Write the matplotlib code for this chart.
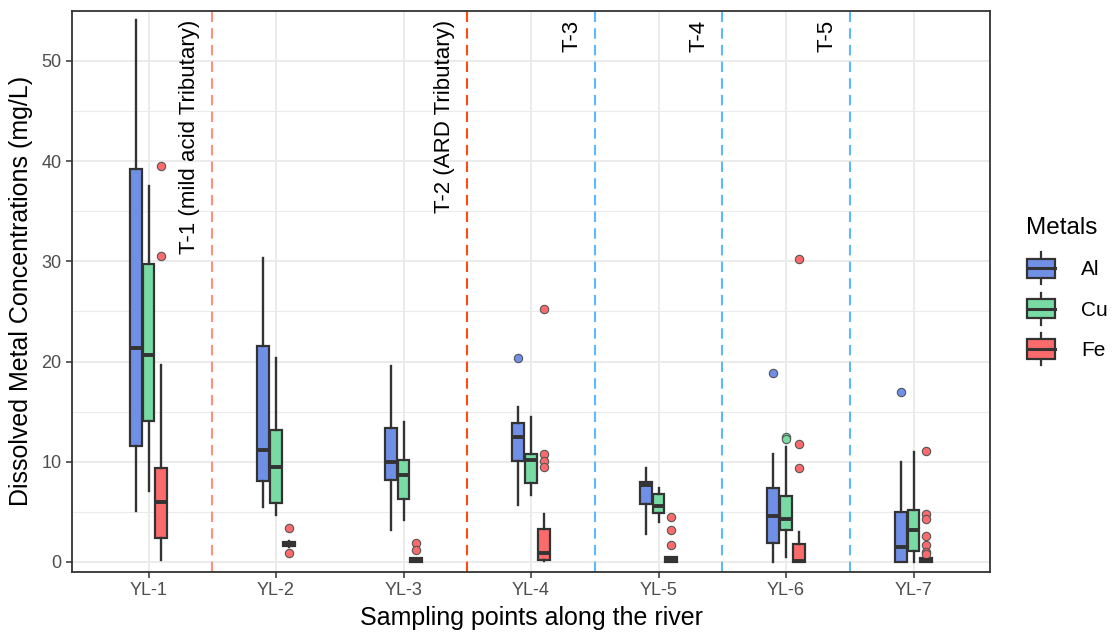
import matplotlib
matplotlib.use("Agg")
import matplotlib.pyplot as plt
from matplotlib.patches import Rectangle, Patch
from matplotlib.lines import Line2D
from matplotlib.legend_handler import HandlerBase

plt.rcParams['font.family'] = ['Liberation Sans', 'DejaVu Sans']

sites = ["YL-1", "YL-2", "YL-3", "YL-4", "YL-5", "YL-6", "YL-7"]
metals = ["Al", "Cu", "Fe"]
colors = {"Al": "#7090E8", "Cu": "#78DBA4", "Fe": "#FB6B6B"}

# box stats: whisker low, q1, median, q3, whisker high
al_lo = [5.1, 5.5, 3.2, 5.7, 2.8, 0.0, 0.0]
al_q1 = [11.6, 8.1, 8.2, 10.1, 5.8, 1.9, 0.0]
al_med = [21.3, 11.2, 10.0, 12.5, 7.7, 4.6, 1.5]
al_q3 = [39.2, 21.5, 13.4, 13.9, 8.0, 7.4, 5.0]
al_hi = [54.1, 30.3, 19.6, 15.5, 9.4, 10.8, 10.0]
al_out = [[], [], [], [20.4], [], [18.9], [17.0]]

cu_lo = [7.1, 4.7, 4.2, 6.7, 4.0, 0.5, 0.0]
cu_q1 = [14.1, 5.9, 6.3, 7.9, 4.9, 3.2, 1.1]
cu_med = [20.6, 9.5, 8.7, 10.2, 5.6, 4.3, 3.2]
cu_q3 = [29.7, 13.2, 10.2, 10.8, 6.8, 6.6, 5.2]
cu_hi = [37.5, 20.4, 14.0, 14.5, 7.4, 11.5, 11.0]
cu_out = [[], [], [], [], [], [12.5, 12.3], []]

fe_lo = [0.2, 1.5, 0.0, 0.1, 0.0, 0.0, 0.0]
fe_q1 = [2.4, 1.6, 0.0, 0.2, 0.0, 0.0, 0.0]
fe_med = [6.0, 1.8, 0.2, 0.9, 0.3, 0.1, 0.2]
fe_q3 = [9.4, 2.0, 0.4, 3.3, 0.5, 1.8, 0.4]
fe_hi = [19.7, 2.1, 0.4, 4.8, 0.5, 3.0, 0.4]
fe_out = [[39.5, 30.5], [3.4, 0.9], [1.9, 1.2], [25.2, 10.8, 10.1, 9.5],
          [4.5, 3.2, 1.7], [30.2, 11.8, 9.4], [11.1, 4.8, 4.3, 2.6, 1.7, 1.0, 0.8]]

series = {
    "Al": (al_lo, al_q1, al_med, al_q3, al_hi, al_out),
    "Cu": (cu_lo, cu_q1, cu_med, cu_q3, cu_hi, cu_out),
    "Fe": (fe_lo, fe_q1, fe_med, fe_q3, fe_hi, fe_out),
}

# tributary markers between sites
trib_x = [1.5, 3.5, 4.5, 5.5, 6.5]
trib_labels = ["T-1 (mild acid Tributary)", "T-2 (ARD Tributary)", "T-3", "T-4", "T-5"]
trib_colors = ["#FF9080", "#FF4A10", "#5CB8FF", "#5CB8FF", "#5CB8FF"]

fig = plt.figure(figsize=(11.12, 6.37), dpi=100)
ax = fig.add_axes([72 / 1112, 65 / 637, 918 / 1112, 561.3 / 637])

edge = "#333333"
offsets = {"Al": -0.1, "Cu": 0.0, "Fe": 0.1}
for m in metals:
    lo, q1, med, q3, hi, out = series[m]
    stats = []
    for i in range(len(sites)):
        stats.append(dict(whislo=lo[i], q1=q1[i], med=med[i], q3=q3[i],
                          whishi=hi[i], fliers=out[i]))
    pos = [i + 1 + offsets[m] for i in range(len(sites))]
    ax.bxp(stats, positions=pos, widths=0.092, patch_artist=True, showcaps=False,
           boxprops=dict(facecolor=colors[m], edgecolor=edge, linewidth=1.6),
           whiskerprops=dict(color=edge, linewidth=1.7),
           medianprops=dict(color=edge, linewidth=2.8, solid_capstyle='butt'),
           flierprops=dict(marker='o', markerfacecolor=colors[m], markeredgecolor='#555555',
                           markersize=6, markeredgewidth=0.8),
           zorder=3)

for x, lab, c in zip(trib_x, trib_labels, trib_colors):
    ax.axvline(x, color=c, linewidth=1.5, dashes=(5, 3), zorder=2)
    ax.text(x - 0.18, 54.1, lab, rotation=90, ha='center', va='top', fontsize=16,
            color='black', zorder=4)

ax.set_xlim(0.4, 7.6)
ax.set_ylim(-1.0, 55.0)
ax.set_xticks(range(1, len(sites) + 1))
ax.set_xticklabels(sites)
ax.set_yticks([0, 10, 20, 30, 40, 50])
ax.set_yticks([5, 15, 25, 35, 45], minor=True)
ax.tick_params(axis='both', which='major', labelsize=13, labelcolor='#4D4D4D',
               color='#333333', length=4, width=1.1)
ax.tick_params(axis='y', which='minor', length=0)
ax.grid(True, which='major', color='#EBEBEB', linewidth=1.4, zorder=0)
ax.grid(True, which='minor', axis='y', color='#EBEBEB', linewidth=0.8, zorder=0)
ax.set_axisbelow(True)
for s in ax.spines.values():
    s.set_color('#333333')
    s.set_linewidth(1.3)

ax.set_xlabel("Sampling points along the river", fontsize=18, labelpad=5)
ax.set_ylabel("Dissolved Metal Concentrations (mg/L)", fontsize=18, labelpad=6)


class BoxKey(HandlerBase):
    def create_artists(self, legend, orig_handle, xdescent, ydescent, width, height,
                       fontsize, trans):
        c = orig_handle.get_facecolor()
        bw = width * 0.9
        x0 = -xdescent + (width - bw) / 2
        bh = height * 0.95
        y0 = -ydescent + (height - bh) / 2
        rect = Rectangle((x0, y0), bw, bh, facecolor=c, edgecolor=edge, linewidth=1.6,
                         transform=trans)
        xm = x0 + bw / 2
        mid = Line2D([x0, x0 + bw], [y0 + bh / 2] * 2, color=edge, linewidth=2.2,
                     transform=trans)
        w1 = Line2D([xm, xm], [y0 + bh, y0 + bh + height * 0.3], color=edge,
                    linewidth=1.6, transform=trans)
        w2 = Line2D([xm, xm], [y0, y0 - height * 0.3], color=edge, linewidth=1.6,
                    transform=trans)
        return [w1, w2, rect, mid]


handles = [Patch(facecolor=colors[m]) for m in metals]
leg = ax.legend(handles, metals, title="Metals", handler_map={Patch: BoxKey()},
                loc='center left', bbox_to_anchor=(1.03, 0.505), frameon=False,
                fontsize=15, title_fontsize=17.5, handlelength=1.45, handleheight=1.15,
                labelspacing=0.9, handletextpad=1.2, borderaxespad=0)
leg._legend_box.align = "left"

fig.savefig("out.png", dpi=100)
